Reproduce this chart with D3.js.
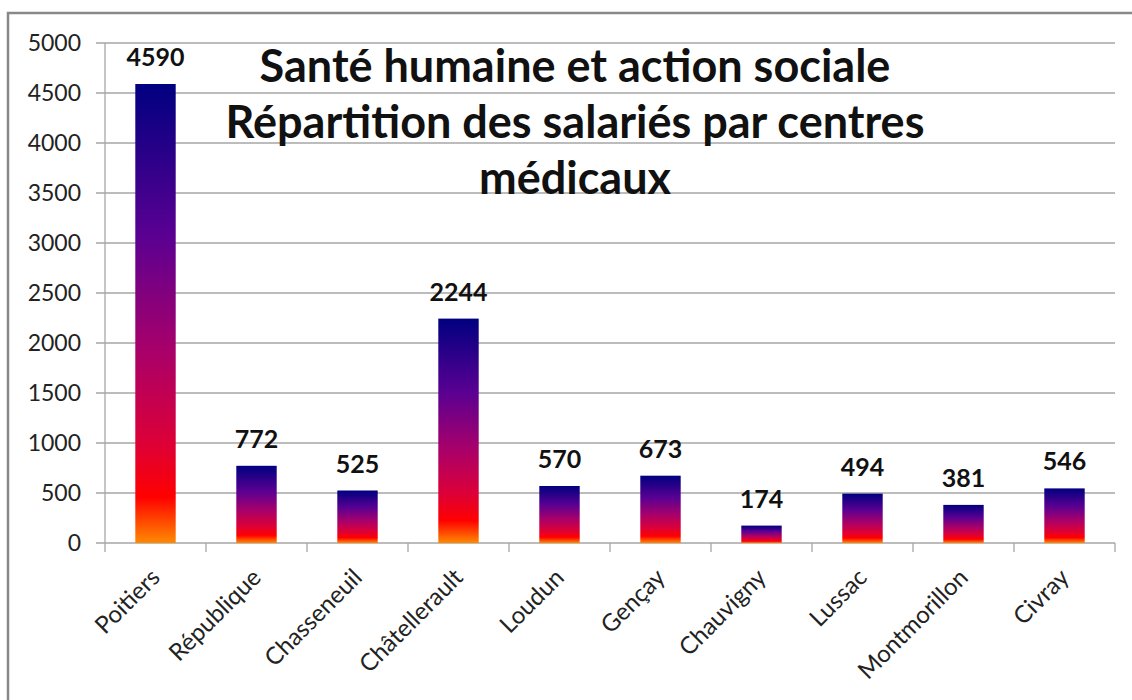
<!DOCTYPE html>
<html><head><meta charset="utf-8">
<script src="https://cdn.jsdelivr.net/npm/d3@7"></script>
<style>body{margin:0;background:#fff}svg{display:block}</style>
</head><body>
<svg id="c" width="1132" height="700"></svg>
<script>
const categories = ["Poitiers","République","Chasseneuil","Châtellerault","Loudun","Gençay","Chauvigny","Lussac","Montmorillon","Civray"];
const values = [4590,772,525,2244,570,673,174,494,381,546];
const yTicks = [0,500,1000,1500,2000,2500,3000,3500,4000,4500,5000];
const titleLines = ["Santé humaine et action sociale","Répartition des salariés par centres","médicaux"];

const svg = d3.select("#c");
const font = "Lato, 'Open Sans', sans-serif";
const L = 105, R = 1115, T = 43, B = 543;

svg.append("rect").attr("x",8).attr("y",13).attr("width",1140).attr("height",700)
  .attr("fill","#fff").attr("stroke","#888").attr("stroke-width",2.5);

const x = d3.scaleBand().domain(categories).range([L,R]).paddingInner(0.6).paddingOuter(0.3);
const xb = d3.scaleBand().domain(categories).range([L,R]);
const y = d3.scaleLinear().domain([0,5000]).range([B,T]);

const defs = svg.append("defs");
const g = defs.append("linearGradient").attr("id","grad").attr("x1",0).attr("y1",0).attr("x2",0).attr("y2",1);
[[0,"#000080"],[0.33,"#5a0092"],[0.58,"#a8006a"],[0.78,"#dc0038"],[0.9,"#ff0000"],[1,"#ff8a00"]]
  .forEach(([o,c])=>g.append("stop").attr("offset",o).attr("stop-color",c));

svg.append("g").selectAll("line").data(yTicks).join("line")
  .attr("x1",L-9).attr("x2",R).attr("y1",d=>y(d)).attr("y2",d=>y(d))
  .attr("stroke","#a6a6a6").attr("stroke-width",1.3);
svg.append("line").attr("x1",L).attr("x2",L).attr("y1",T).attr("y2",B).attr("stroke","#a6a6a6").attr("stroke-width",1.3);
svg.append("g").selectAll("text").data(yTicks).join("text")
  .attr("x",81).attr("y",d=>y(d)).attr("dy","0.35em").attr("text-anchor","end")
  .attr("font-family",font).attr("font-size",23).attr("fill","#222").text(d=>d);
const bounds = categories.map(c=>xb(c)).concat([R]);
svg.append("g").selectAll("line").data(bounds).join("line")
  .attr("x1",d=>d).attr("x2",d=>d).attr("y1",B).attr("y2",B+9)
  .attr("stroke","#a6a6a6").attr("stroke-width",1.3);

svg.append("g").selectAll("rect").data(values).join("rect")
  .attr("x",(d,i)=>x(categories[i])).attr("width",x.bandwidth())
  .attr("y",d=>y(d)).attr("height",d=>B-y(d)).attr("fill","url(#grad)");

svg.append("g").selectAll("text").data(values).join("text")
  .attr("x",(d,i)=>x(categories[i])+x.bandwidth()/2).attr("y",d=>y(d)-18)
  .attr("text-anchor","middle").attr("font-family",font).attr("font-weight","bold")
  .attr("font-size",25).attr("fill","#111").text(d=>d);

svg.append("g").selectAll("text").data(categories).join("text")
  .attr("transform",d=>`translate(${x(d)+x.bandwidth()/2},${B+30}) rotate(-45)`)
  .attr("text-anchor","end").attr("dy","0.35em").attr("font-family",font)
  .attr("font-size",24).attr("fill","#222").text(d=>d);

svg.append("g").selectAll("text").data(titleLines).join("text")
  .attr("x",575).attr("y",(d,i)=>82+i*56).attr("text-anchor","middle")
  .attr("font-family",font).attr("font-weight","bold").attr("font-size",45).attr("fill","#111").text(d=>d);
</script>
</body></html>
